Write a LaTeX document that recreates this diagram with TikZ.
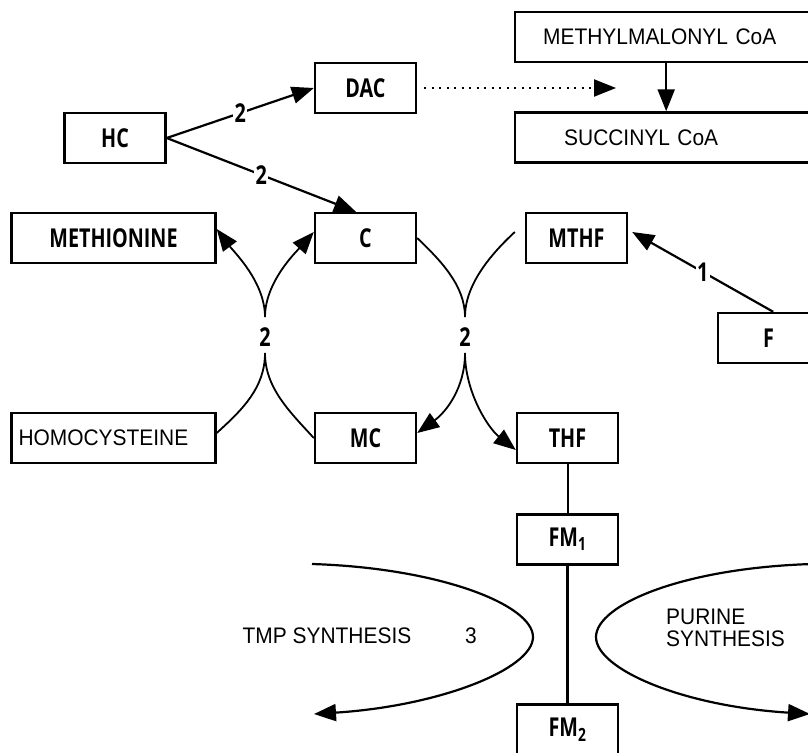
\documentclass[tikz,border=0pt]{standalone}
\usepackage{fontspec}
\setmainfont[FakeStretch=0.93]{Liberation Sans}
\newfontfamily\condf[FakeStretch=0.76]{Open Sans}
\usetikzlibrary{arrows.meta}
\begin{document}
\begin{tikzpicture}[x=1pt,y=-1pt,
 box/.style={draw, line width=2.4pt, minimum width=101pt, minimum height=50pt, inner sep=0pt, font=\condf\bfseries\fontsize{26}{30}\selectfont},
 abox/.style={draw, line width=2.4pt, minimum height=50pt, inner ysep=0pt, align=left, font=\fontsize{22.5}{25}\selectfont},
 arr/.style={line width=2.2pt, -{Triangle[length=22pt,width=17pt]}},
 lbl/.style={fill=white, inner sep=1.5pt, font=\condf\bfseries\fontsize{26}{30}\selectfont},
 arcl/.style={line width=1.8pt},
 arcarr/.style={line width=1.8pt, -{Triangle[length=22pt,width=17pt]}},
 plain/.style={font=\fontsize{22.5}{22}\selectfont, inner sep=0pt},
]
\useasboundingbox (0,0) rectangle (808,752);
% top right boxes
\node[abox, anchor=west, text width=260pt, inner xsep=28pt] (mm) at (514,37) {METHYLMALONYL CoA};
\node[abox, anchor=west, text width=218pt, inner xsep=49pt] (sc) at (514,137.5) {SUCCINYL CoA};
\draw[arr] ([xshift=-7pt]mm.south) -- ([xshift=-7pt]sc.north);
% boxes
\node[box] (hc) at (115,138) {HC};
\node[box] (dac) at (365.5,88) {DAC};
\node[box] (c) at (365.5,238) {C};
\node[box] (mc) at (365.5,438) {MC};
\node[box, minimum width=204pt] (meth) at (113.5,238) {METHIONINE};
\node[abox, text width=190pt, inner xsep=7pt] (hcy) at (113.5,438) {HOMOCYSTEINE};
\node[box] (mthf) at (576.5,238) {MTHF};
\node[box] (thf) at (567.5,438) {THF};
\node[box] (fm1) at (567.5,539.5) {FM\textsubscript{1}};
\node[box] (fm2) at (567.5,729.5) {FM\textsubscript{2}};
\node[box, anchor=west, text width=30pt, align=left, inner xsep=45pt] (f) at (717,338) {F};
% arrows
\coordinate (dotend) at (616,88);
\draw[line width=2.2pt, dash pattern=on 2pt off 5.5pt, -{Triangle[length=22pt,width=17pt]}] ([xshift=7pt]dac.east) -- (dotend);
\draw[arr] (hc.east) -- node[lbl]{2} (dac.west);
\draw[arr] (hc.east) -- node[lbl]{2} ([xshift=-9.5pt]c.north);
\draw[arr] ([xshift=-5pt]f.north) -- node[lbl]{1} ([xshift=4pt,yshift=6pt]mthf.east);
% arcs
\coordinate (la) at (265,317); \coordinate (lb) at (265,353);
\coordinate (ra) at (465,317); \coordinate (rb) at (465,353);
\node[lbl] at (265,337) {2};
\node[lbl] at (465,337) {2};
\draw[arcarr] (la) .. controls (265,282) and (234,252) .. ([yshift=9pt]meth.east);
\draw[arcarr] (la) .. controls (265,282) and (296,252) .. ([yshift=6pt]c.west);
\draw[arcl] ([yshift=5pt]hcy.east) .. controls (242,410) and (265,388) .. (lb);
\draw[arcl] (mc.west) .. controls (290,412) and (265,388) .. (lb);
\draw[arcl] (c.east) .. controls (440,260) and (465,285) .. (ra);
\draw[arcl] ([xshift=-10pt,yshift=6pt]mthf.west) .. controls (490,255) and (465,285) .. (ra);
\draw[arcarr] (rb) .. controls (465,388) and (446,412) .. ([yshift=5pt]mc.east);
\draw[arcarr] (rb) .. controls (465,392) and (488,428) .. ([yshift=-12pt]thf.west);
% vertical lines
\draw[line width=2pt] (thf) -- (fm1);
\draw[line width=2.2pt] (fm1) -- (fm2);
% bottom curves
\coordinate (tmpS) at (312,564); \coordinate (tmpN) at (533,637); \coordinate (tmpE) at (314,714);
\draw[arcarr, line width=2.2pt] (tmpS) .. controls (440,568) and (533,605) .. (tmpN) .. controls (533,669) and (440,706) .. (tmpE);
\coordinate (purS) at (812,564); \coordinate (purN) at (596,637); \coordinate (purE) at (810,714);
\draw[arcarr, line width=2.2pt] (purS) .. controls (682,568) and (596,605) .. (purN) .. controls (596,669) and (682,706) .. (purE);
\node[plain] (tmp) at (327,636) {TMP SYNTHESIS};
\node[plain] (three) at (471,636) {3};
\node[plain, anchor=west, align=left] (pur) at (666,628) {PURINE\\SYNTHESIS};
\end{tikzpicture}
\end{document}
